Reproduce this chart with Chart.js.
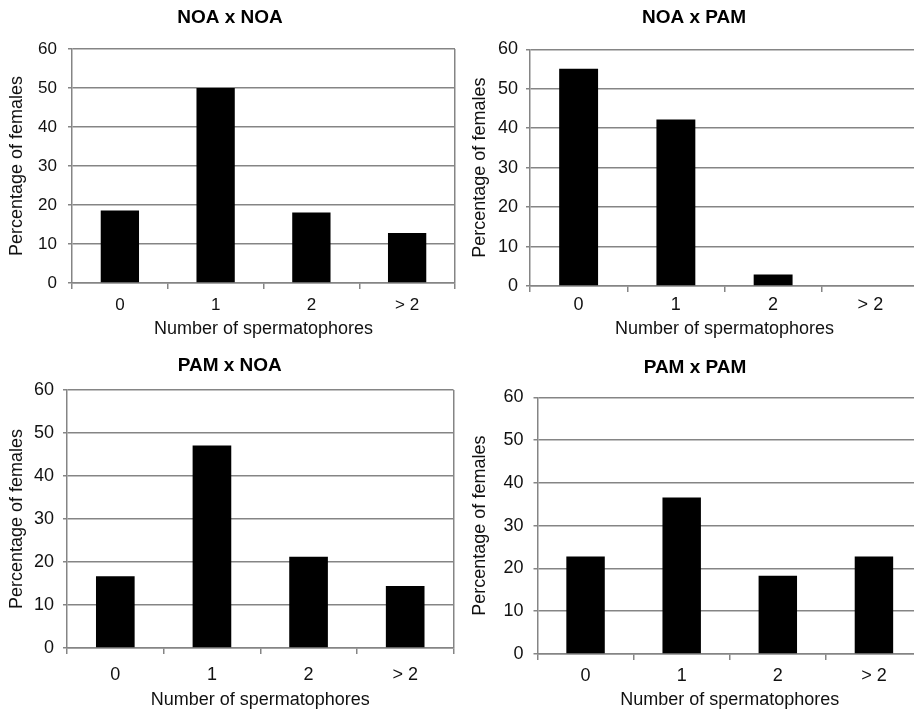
<!DOCTYPE html>
<html>
<head>
<meta charset="utf-8">
<title>Number of spermatophores per female</title>
<script src="https://cdn.jsdelivr.net/npm/chart.js@4.4.1/dist/chart.umd.min.js"></script>
<style>
  body { margin: 0; background: #fff; overflow: hidden; width: 914px; height: 711px; position: relative; }
  canvas { position: absolute; }
</style>
</head>
<body>
<canvas id="c1" width="457" height="340" style="left:0;top:0"></canvas>
<canvas id="c2" width="470" height="340" style="left:457px;top:0"></canvas>
<canvas id="c3" width="457" height="371" style="left:0;top:340px"></canvas>
<canvas id="c4" width="470" height="371" style="left:457px;top:340px"></canvas>
<script>
// data (percentage of females)
const categories = ['0', '1', '2', '> 2'];
const noaXnoa = [18.6, 50, 18.1, 12.8];
const noaXpam = [55.1, 42.2, 2.9, 0];
const pamXnoa = [16.7, 47.1, 21.2, 14.4];
const pamXpam = [22.8, 36.6, 18.3, 22.8];
const yMin = 0;
const yMax = 60;
const yStep = 10;

const gridColor = '#858585';
Chart.defaults.font.family = "'Liberation Sans', Arial, sans-serif";
Chart.defaults.color = '#111';

// layout of each panel
const panels = [
    { id: 'c1', title: 'NOA x NOA', values: noaXnoa, padLeft: 5, padRight: 2, yWidth: 67, xHeight: 57, tickSize: 17,
      titlePad: { top: 6.6, bottom: 19.6 }, yTitlePad: 1.2, yTickPad: 11, xTickPad: 6, rightBorder: true },
    { id: 'c2', title: 'NOA x PAM', values: noaXpam, padLeft: 12, padRight: 8, yWidth: 61, xHeight: 54, tickSize: 18,
      titlePad: { top: 6.6, bottom: 19.9 }, yTitlePad: 0.2, yTickPad: 8, xTickPad: 2.5, rightBorder: false },
    { id: 'c3', title: 'PAM x NOA', values: pamXnoa, padLeft: 6, padRight: 3.5, yWidth: 61, xHeight: 63, tickSize: 18,
      titlePad: { top: 14.6, bottom: 12.6 }, yTitlePad: 0.2, yTickPad: 9, xTickPad: 10, rightBorder: true },
    { id: 'c4', title: 'PAM x PAM', values: pamXpam, padLeft: 11, padRight: 5, yWidth: 69.5, xHeight: 57, tickSize: 18,
      titlePad: { top: 16.3, bottom: 18.2 }, yTitlePad: 1.2, yTickPad: 10, xTickPad: 5.5, rightBorder: false }
];

panels.forEach(p => {
    new Chart(document.getElementById(p.id), {
        type: 'bar',
        data: {
            labels: categories,
            datasets: [{
                data: p.values,
                backgroundColor: '#000',
                borderWidth: 0,
                barPercentage: 0.4,
                categoryPercentage: 1
            }]
        },
        options: {
            responsive: false,
            animation: false,
            layout: { padding: { left: p.padLeft, right: p.padRight, top: 0, bottom: 0 } },
            plugins: {
                legend: { display: false },
                tooltip: { enabled: false },
                title: {
                    display: true,
                    text: p.title,
                    color: '#000',
                    font: { size: 19, weight: 'bold' },
                    padding: p.titlePad
                }
            },
            scales: {
                x: {
                    offset: true,
                    grid: {
                        offset: true,
                        // only the closing line on the right of the plot is shown
                        color: ctx => (p.rightBorder && ctx.type !== 'tick') ? gridColor : 'transparent',
                        tickColor: gridColor,
                        tickLength: 6,
                        lineWidth: 1.5
                    },
                    border: { color: gridColor, width: 1.5 },
                    ticks: { font: { size: p.tickSize }, padding: p.xTickPad, maxRotation: 0 },
                    title: {
                        display: true,
                        text: 'Number of spermatophores',
                        font: { size: 18 },
                        padding: { top: 0, bottom: 0 }
                    },
                    afterFit: s => { s.height = p.xHeight; }
                },
                y: {
                    min: yMin,
                    max: yMax,
                    ticks: { stepSize: yStep, font: { size: p.tickSize }, padding: p.yTickPad },
                    grid: { color: gridColor, lineWidth: 1.5, tickLength: 4 },
                    border: { color: gridColor, width: 1.5 },
                    title: {
                        display: true,
                        text: 'Percentage of females',
                        font: { size: 18 },
                        padding: { top: p.yTitlePad, bottom: 0 }
                    },
                    afterFit: s => { s.width = p.yWidth; }
                }
            }
        }
    });
});
</script>
</body>
</html>
